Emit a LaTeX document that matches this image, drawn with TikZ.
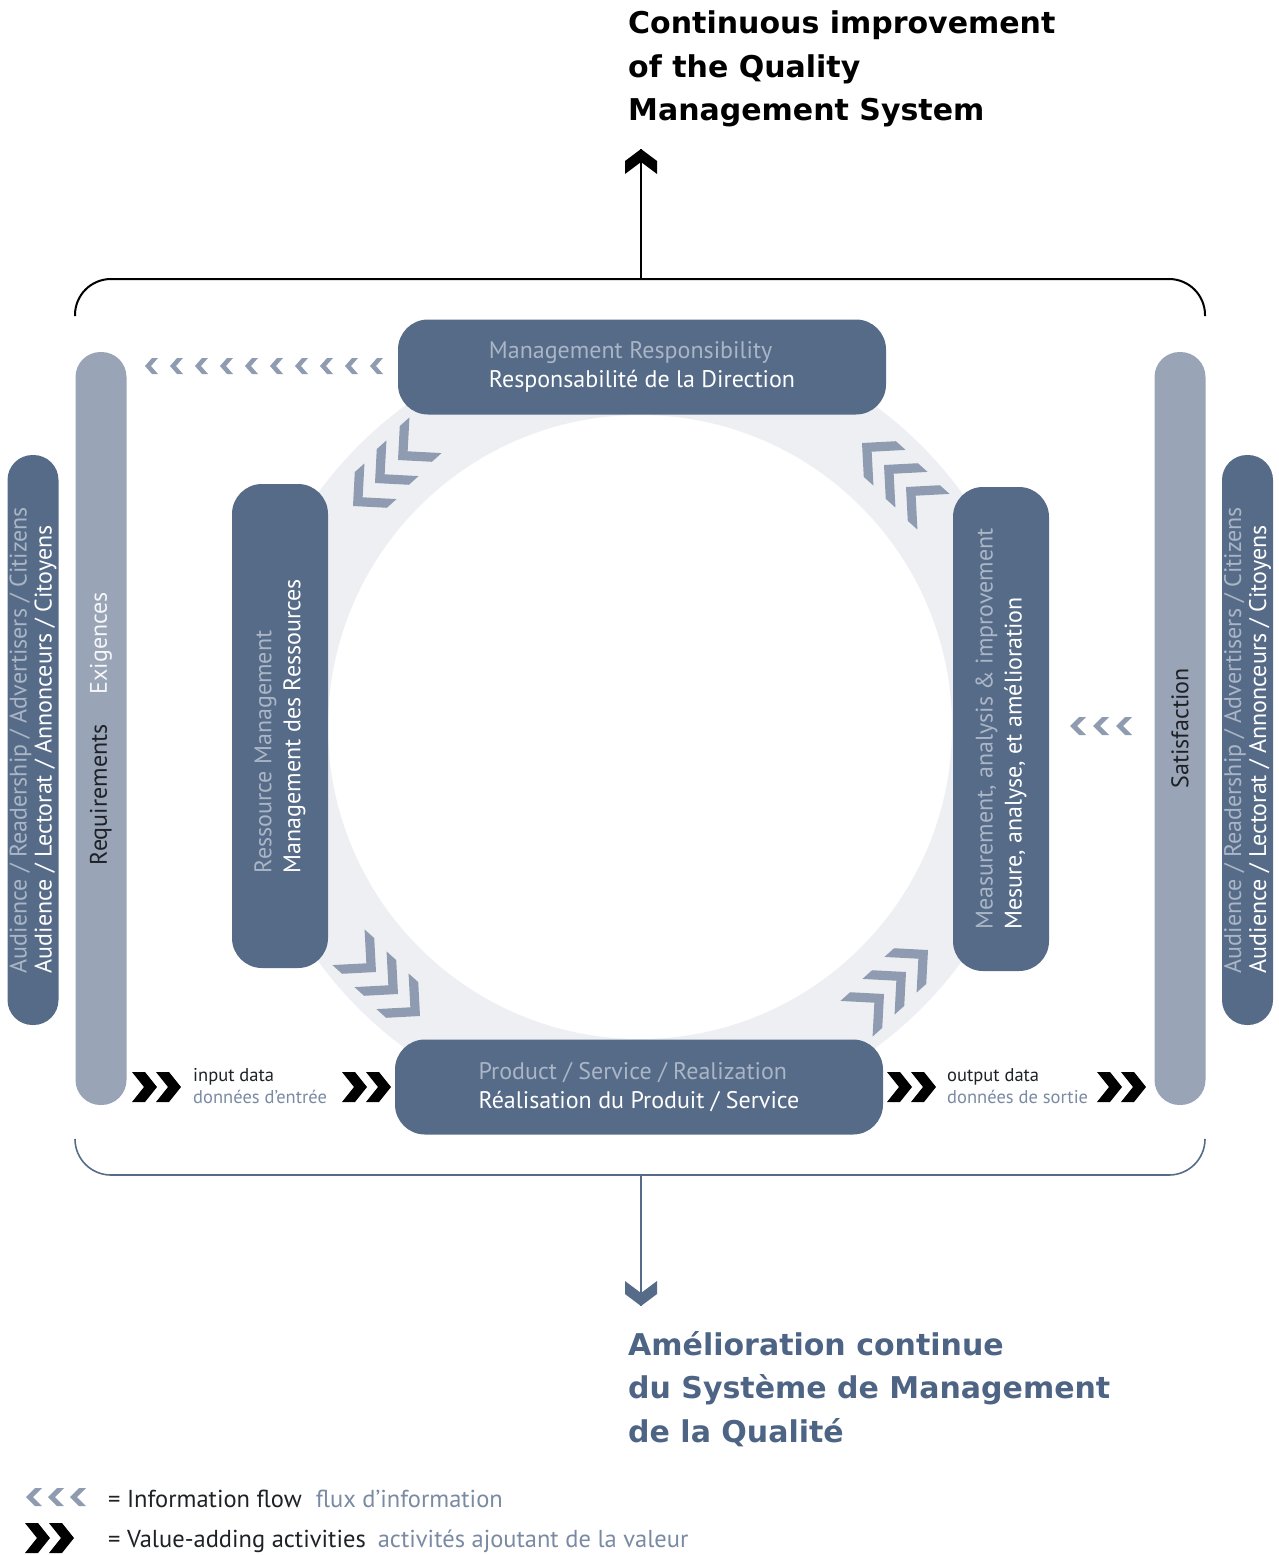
\documentclass[tikz,border=0pt]{standalone}
\usepackage{fontspec}
\setmainfont{PT Sans}
\newfontfamily\headfont{DejaVu Sans}

\definecolor{boxblue}{HTML}{566B88}
\definecolor{barblue}{HTML}{99A4B7}
\definecolor{ringgrey}{HTML}{EDEFF3}
\definecolor{chevgrey}{HTML}{8E9BB0}
\definecolor{paletext}{HTML}{AAB5C6}
\definecolor{slatetext}{HTML}{7A8AA2}
\definecolor{headblue}{HTML}{4E6485}
\definecolor{darktext}{HTML}{1E2126}

% one chevron, tip at the origin, pointing along +x
\tikzset{
  chev depth/.store in=\chevdepth, chev half/.store in=\chevhalf,
  chev thick/.store in=\chevthick,
  chev depth=10, chev half=10, chev thick=6,
  pics/chev/.style={code={
    \fill (0,0) -- (-\chevdepth,\chevhalf) -- (-\chevdepth-\chevthick,\chevhalf)
      -- (-\chevthick,0) -- (-\chevdepth-\chevthick,-\chevhalf)
      -- (-\chevdepth,-\chevhalf) -- cycle;}}
}

\begin{document}
\begin{tikzpicture}[x=1pt, y=-1pt,
  procbox/.style={rectangle, rounded corners=30pt, fill=boxblue, text=white,
                  align=left, inner sep=0pt, minimum width=488pt, minimum height=95pt,
                  font=\fontsize{24}{29}\selectfont},
  sidebar/.style={rectangle, rounded corners=25pt, fill=#1, rotate=90,
                  minimum height=51pt, inner sep=0pt, align=left,
                  font=\fontsize{24}{25}\selectfont},
  infochev/.style={fill=chevgrey, chev depth=7, chev half=8, chev thick=6},
  valuechev/.style={fill=black, chev depth=12, chev half=15, chev thick=13},
  ringchev/.style={fill=chevgrey, chev depth=24, chev half=24, chev thick=13},
  headchev/.style={chev depth=12, chev half=16, chev thick=13},
  heading/.style={anchor=north west, align=left, inner sep=0pt,
                  font=\headfont\bfseries\fontsize{30}{43.5}\selectfont},
  smalllbl/.style={anchor=west, align=left, inner sep=0pt, text=darktext,
                   font=\fontsize{18.5}{22}\selectfont},
  legendlbl/.style={anchor=west, inner sep=0pt, text=darktext,
                    font=\fontsize{24.5}{28}\selectfont}
]
\useasboundingbox (0,0) rectangle (1279,1555);

% --- process ring --------------------------------------------------------
\fill[ringgrey, even odd rule] (640,727) circle [radius=398] (640,727) circle [radius=312];

% --- frame and improvement arrows ----------------------------------------
\draw[line width=2pt, rounded corners=36pt] (75,316) -- (75,279) -- (1205,279) -- (1205,316);
\draw[boxblue, line width=1.6pt, rounded corners=36pt] (75,1140) -- (75,1175) -- (1205,1175) -- (1205,1140);

\coordinate (frametop) at (641,279);
\coordinate (framebot) at (641,1175);
\coordinate (uptip) at (641,149);
\coordinate (downtip) at (641,1306);
\draw[line width=2pt] (frametop) -- (uptip);
\pic[headchev, fill=black, rotate=90] at (uptip) {chev};
\draw[boxblue, line width=1.6pt] (framebot) -- (downtip);
\pic[headchev, fill=boxblue, rotate=270] at (downtip) {chev};

\node[heading, text=black] (titleen) at (628,11)
  {Continuous improvement\\of the Quality\\Management System};
\node[heading, text=headblue] (titlefr) at (628,1331)
  {Amélioration continue\\du Système de Management\\de la Qualité};

% --- side bars -----------------------------------------------------------
\node[sidebar=boxblue, minimum width=570pt, text=white] (audleft) at (33,740)
  {{\color{paletext}Audience / Readership / Advertisers / Citizens}\\Audience / Lectorat / Annonceurs / Citoyens};
\node[sidebar=barblue, minimum width=753pt, text=darktext] (reqbar) at (101,728.5)
  {Requirements\hspace{30pt}{\color{white!90!barblue}Exigences}};
\node[sidebar=barblue, minimum width=753pt, text=darktext] (satbar) at (1180,728.5)
  {Satisfaction};
\node[sidebar=boxblue, minimum width=570pt, text=white] (audright) at (1247.5,740)
  {{\color{paletext}Audience / Readership / Advertisers / Citizens}\\Audience / Lectorat / Annonceurs / Citoyens};

% --- process boxes -------------------------------------------------------
\node[procbox] (mgmtresp) at (642,367)
  {{\color{paletext}Management Responsibility}\\Responsabilité de la Direction};
\node[procbox] (realiz) at (639,1087)
  {{\color{paletext}Product / Service / Realization}\\Réalisation du Produit / Service};
\node[procbox, rotate=90, minimum width=484pt, minimum height=96pt] (resmgmt) at (280,726)
  {{\color{paletext}Ressource Management}\\Management des Ressources};
\node[procbox, rotate=90, minimum width=484pt, minimum height=96pt] (measure) at (1001,729)
  {{\color{paletext}Measurement, analysis \& improvement}\\Mesure, analyse, et amélioration};

% --- chevrons round the ring ---------------------------------------------
\foreach \x/\y in {398/460, 375/483, 353/506}
  \pic[ringchev, rotate=222] at (\x,\y) {chev};
\foreach \x/\y in {376/972, 398/994, 420/1016}
  \pic[ringchev, rotate=318] at (\x,\y) {chev};
\foreach \x/\y in {884/994, 906/972, 928/950}
  \pic[ringchev, rotate=42] at (\x,\y) {chev};
\foreach \x/\y in {862/443, 884/465, 906/487}
  \pic[ringchev, rotate=138] at (\x,\y) {chev};

% --- information flow ----------------------------------------------------
\foreach \i in {0,...,9}
  \pic[infochev, rotate=180] at ({145+25*\i},366) {chev};
\foreach \x in {1070,1093,1116}
  \pic[infochev, chev depth=9, chev half=9, chev thick=7, rotate=180] at (\x,726) {chev};

% --- value-adding activities ---------------------------------------------
\foreach \x in {157,181, 367,391, 912,936, 1122,1146}
  \pic[valuechev] at (\x,1087) {chev};

\node[smalllbl] (inputlbl) at (193,1086)
  {input data\\{\color{slatetext}données d’entrée}};
\node[smalllbl] (outputlbl) at (947,1086)
  {output data\\{\color{slatetext}données de sortie}};

% --- legend --------------------------------------------------------------
\foreach \x in {26,48,70}
  \pic[infochev, chev depth=9, chev half=9, chev thick=7, rotate=180] at (\x,1497) {chev};
\foreach \x in {50,74}
  \pic[valuechev] at (\x,1538) {chev};
\node[legendlbl] (infolegend) at (108,1499)
  {= Information flow\hspace{14pt}{\color{slatetext}flux d’information}};
\node[legendlbl] (valuelegend) at (108,1541)
  {= Value-adding activities\hspace{12pt}{\color{slatetext}activités ajoutant de la valeur}};
\end{tikzpicture}
\end{document}
